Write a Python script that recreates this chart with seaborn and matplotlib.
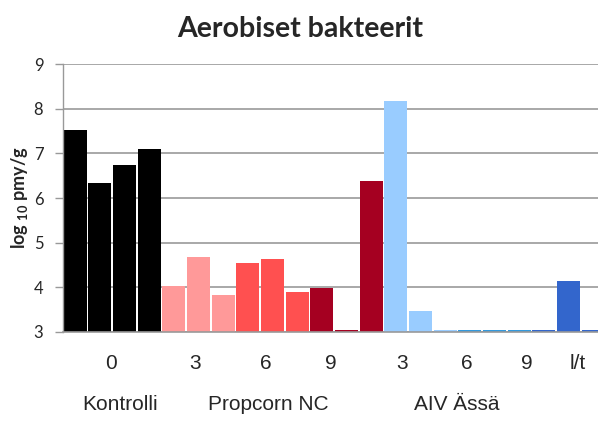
import matplotlib
matplotlib.use("Agg")
import matplotlib.pyplot as plt
import matplotlib.transforms as mtransforms
import seaborn as sns
import pandas as pd

# ---- data ----
samples = ["K1", "K2", "K3", "K4",
           "P3a", "P3b", "P3c", "P6a", "P6b", "P6c", "P9a", "P9b", "P9c",
           "A3a", "A3b", "A3c", "A6a", "A6b", "A6c", "A9a", "A9b", "A9c"]
values = [7.52, 6.33, 6.74, 7.09,
          4.03, 4.68, 3.83, 4.54, 4.63, 3.89, 3.99, 3.04, 6.37,
          8.18, 3.48, 3.04, 3.04, 3.04, 3.04, 3.04, 4.15, 3.04]
groups = ["Kontrolli"] * 4 + ["P3"] * 3 + ["P6"] * 3 + ["P9"] * 3 + \
         ["A3"] * 3 + ["A6"] * 3 + ["A9"] * 3
group_colors = {"Kontrolli": "#000000", "P3": "#FF9999", "P6": "#FF5050",
                "P9": "#A50021", "A3": "#99CCFF", "A6": "#3399DD", "A9": "#3366CC"}
tick_labels = ["0", "3", "6", "9", "3", "6", "9", "l/t"]
tick_pos = [1.44, 4.85, 7.73, 10.37, 13.25, 15.88, 18.32, 20.39]
series_labels = ["Kontrolli", "Propcorn NC", "AIV Ässä"]
series_pos = [1.81, 7.85, 15.48]
title = "Aerobiset bakteerit"
ylabel = "log $_{10}$ pmy/g"

df = pd.DataFrame({"sample": samples, "value": values, "group": groups})

sns.set_theme(style="white")
plt.rcParams["font.family"] = ["Liberation Sans", "DejaVu Sans"]
plt.rcParams["mathtext.fontset"] = "custom"
plt.rcParams["mathtext.rm"] = "Lato:bold"

fig = plt.figure(figsize=(5.98, 4.24), dpi=100)
ax = fig.add_axes([0.105, 0.217, 0.895, 0.632])

sns.barplot(data=df, x="sample", y="value", hue="group", palette=group_colors,
            order=samples, dodge=False, width=0.93, legend=False,
            linewidth=0, saturation=1, ax=ax)

ax.set_ylim(3, 9)
ax.set_xlim(-0.5, 21.2)
ax.set_yticks(range(3, 10))
ax.set_axisbelow(True)
ax.yaxis.grid(True, color="#999999", linewidth=1.2)
ax.xaxis.grid(False)
for s in ["top", "right"]:
    ax.spines[s].set_visible(False)
ax.spines["left"].set_color("#999999")
ax.spines["left"].set_linewidth(1.0)
ax.spines["bottom"].set_color("#999999")
ax.spines["bottom"].set_linewidth(1.2)
ax.tick_params(axis="y", which="both", left=True, length=6, width=1.0,
               color="#999999", labelsize=12, pad=8)
for lab in ax.get_yticklabels():
    lab.set_fontfamily("Lato")
ax.set_xticks(tick_pos)
ax.set_xticklabels(tick_labels, fontsize=15)
ax.tick_params(axis="x", bottom=False, pad=10)
ax.set_xlabel("")
ax.set_ylabel(ylabel, fontsize=13, fontweight="bold", fontfamily="Lato", labelpad=3)

trans = mtransforms.blended_transform_factory(ax.transData, ax.transAxes)
for lab, x in zip(series_labels, series_pos):
    ax.text(x, -0.27, lab, transform=trans, ha="center", va="center", fontsize=15)

fig.text(0.502, 0.932, title, ha="center", va="center", fontsize=20.5,
         fontweight="bold", fontfamily="Lato")

fig.savefig("out.png", dpi=100)
